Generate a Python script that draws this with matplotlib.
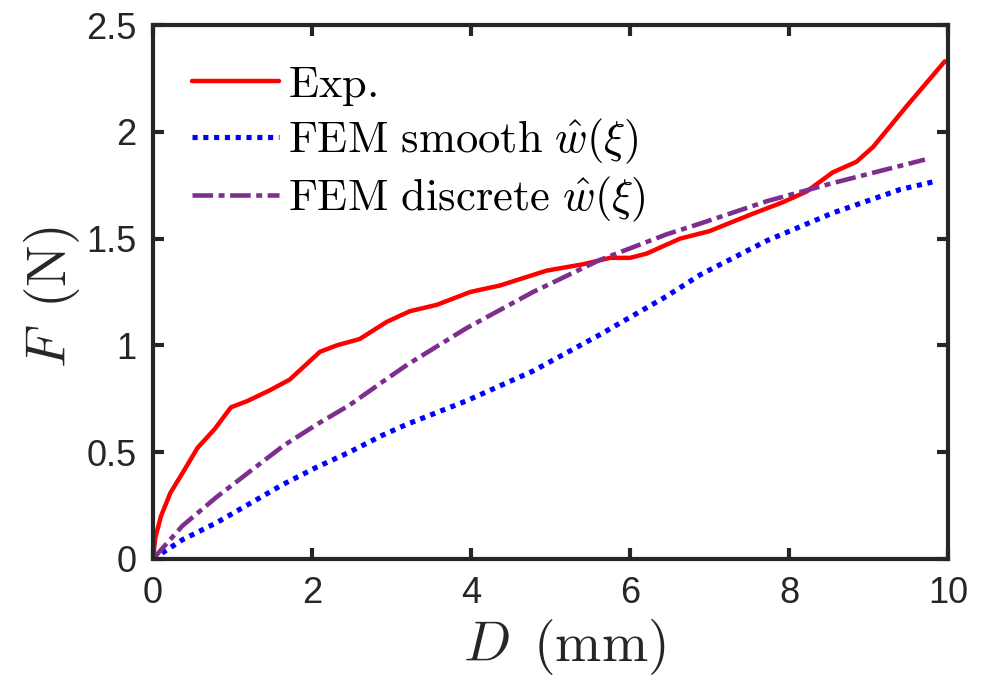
import matplotlib
matplotlib.use('Agg')
import matplotlib.pyplot as plt

# Data
D_exp = [0, 0.03, 0.1, 0.22, 0.4, 0.56, 0.78, 0.98, 1.19, 1.47, 1.72, 2.1, 2.31, 2.6,
         2.94, 3.23, 3.57, 3.99, 4.11, 4.36, 4.95, 5.41, 5.75, 6.0, 6.21, 6.63, 7.0,
         7.5, 7.92, 8.22, 8.55, 8.85, 9.06, 9.48, 9.96]
F_exp = [0, 0.10, 0.20, 0.31, 0.42, 0.52, 0.61, 0.71, 0.74, 0.79, 0.84, 0.97, 1.00, 1.03,
         1.11, 1.16, 1.19, 1.25, 1.26, 1.28, 1.35, 1.38, 1.41, 1.41, 1.43, 1.50, 1.535,
         1.61, 1.67, 1.72, 1.81, 1.86, 1.93, 2.12, 2.33]

D_smooth = [0, 0.37, 0.8, 1.22, 1.64, 2.06, 2.47, 2.89, 3.19, 3.94, 4.78, 5.62, 6.46,
            6.88, 7.72, 8.55, 9.4, 9.86]
F_smooth = [0, 0.09, 0.17, 0.26, 0.35, 0.43, 0.50, 0.58, 0.63, 0.74, 0.88, 1.05, 1.23,
            1.33, 1.49, 1.62, 1.73, 1.77]

D_disc = [0, 0.37, 0.8, 1.22, 1.64, 2.06, 2.47, 2.89, 3.2, 3.94, 4.78, 5.62, 6.46, 6.88,
          7.72, 8.55, 9.18, 9.71]
F_disc = [0, 0.155, 0.29, 0.41, 0.53, 0.63, 0.72, 0.83, 0.91, 1.08, 1.25, 1.40, 1.52,
          1.57, 1.675, 1.76, 1.82, 1.87]

labels = [r'$\mathrm{Exp.}$',
          r'$\mathrm{FEM\ smooth}\ \hat{w}(\xi)$',
          r'$\mathrm{FEM\ discrete}\ \hat{w}(\xi)$']

plt.rcParams['mathtext.fontset'] = 'cm'
plt.rcParams['font.family'] = ['Liberation Sans', 'DejaVu Sans']

ink = '#262626'
fig = plt.figure(figsize=(9.92, 6.77), dpi=100)
ax = fig.add_axes([0.1542, 0.1743, 0.8014, 0.7887])

ax.plot(D_exp, F_exp, color='#ff0000', lw=3.2, label=labels[0],
        solid_joinstyle='round', solid_capstyle='round')
ax.plot(D_smooth, F_smooth, color='#0000ff', lw=3.7, linestyle=(0, (1.0, 1.1)),
        dash_capstyle='butt', label=labels[1])
ax.plot(D_disc, F_disc, color='#7e2f8e', lw=3.3, linestyle=(0, (4.5, 1.2, 1.3, 1.2)),
        dash_capstyle='butt', label=labels[2])

ax.set_xlim(0, 10)
ax.set_ylim(0, 2.5)
ax.set_xticks([0, 2, 4, 6, 8, 10])
ax.set_yticks([0, 0.5, 1, 1.5, 2, 2.5])
ax.set_yticklabels(['0', '0.5', '1', '1.5', '2', '2.5'])

for s in ax.spines.values():
    s.set_linewidth(3.0)
    s.set_color(ink)
ax.tick_params(direction='in', length=8, width=3.0, top=True, right=True,
               labelsize=26, colors=ink, pad=12)

ax.set_xlabel(r'$D\ \,(\mathrm{mm})$', fontsize=40, color=ink)
ax.set_ylabel(r'$F\ \,(\mathrm{N})$', fontsize=40, color=ink)
ax.xaxis.set_label_coords(0.518, -0.108)
ax.yaxis.set_label_coords(-0.089, 0.49)

ax.legend(loc='upper left', bbox_to_anchor=(0.027, 0.959), frameon=False,
          fontsize=32, handlelength=1.95, handletextpad=0.2, labelspacing=0.2,
          borderaxespad=0)

fig.savefig('out.png', dpi=100)
